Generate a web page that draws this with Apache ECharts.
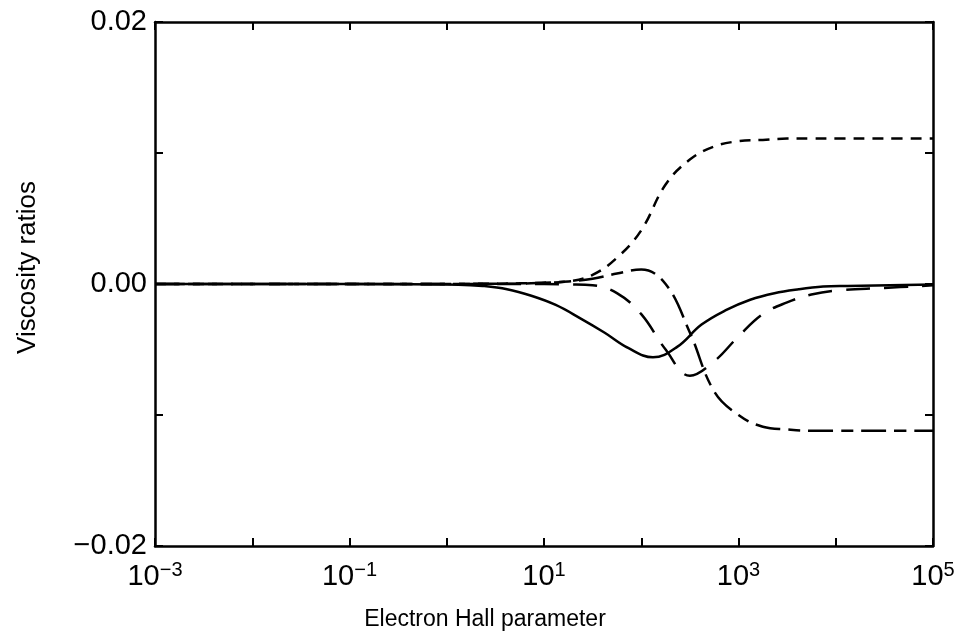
<!DOCTYPE html>
<html>
<head>
<meta charset="utf-8">
<title>Viscosity ratios</title>
<script src="https://cdn.jsdelivr.net/npm/echarts@6/dist/echarts.min.js"></script>
<style>
html,body{margin:0;padding:0;background:#fff;}
#main{width:962px;height:637px;}
</style>
</head>
<body>
<div id="main"></div>
<script>
// electron Hall parameter (x) for the dashed curves (quarter decades where they move)
var hall = [0.001, 0.01, 0.1, 1, 1.78, 3.16, 5.62, 10, 17.8, 31.6, 56.2, 100, 178, 316, 562, 1000, 1780, 3160, 5620, 10000, 31600, 100000];
// solid curve read on a grid centred on its minimum
var hallSolid = [0.001, 0.01, 0.1, 1.32, 2.34, 4.17, 7.41, 13.2, 23.4, 41.7, 74.1, 132, 234, 417, 741, 1320, 2340, 4170, 7410, 13200, 100000];
var solidRatio  = [0, 0, 0, -0.00005, -0.00015, -0.0004, -0.0009, -0.0016, -0.0026, -0.0037, -0.0049, -0.0056, -0.0048, -0.0031, -0.0020, -0.0012, -0.0007, -0.0004, -0.0002, -0.00015, -0.00003];
var risingRatio = [0, 0, 0, 0, 0.00001, 0.00002, 0.00005, 0.0001, 0.0002, 0.0007, 0.0020, 0.0041, 0.0076, 0.0095, 0.0105, 0.0109, 0.0110, 0.0111, 0.0111, 0.0111, 0.0111, 0.0111];
var peakRatio   = [0, 0, 0, 0, 0.00001, 0.00002, 0.00003, 0.0001, 0.0002, 0.0004, 0.0008, 0.0011, 0.0000, -0.0037, -0.0082, -0.0100, -0.0109, -0.0111, -0.0112, -0.0112, -0.0112, -0.0112];
var longRatio   = [0, 0, 0, 0, 0, 0, 0, 0, -0.00003, -0.0001, -0.0007, -0.0023, -0.0050, -0.0070, -0.0059, -0.0040, -0.0023, -0.0014, -0.0008, -0.0005, -0.0003, -0.0001];
// tick labels
var yTickLabels = {'0.02': '0.02', '0': '0.00', '-0.02': '\u22120.02'};
var xLabelExps = [-3, -1, 1, 3, 5];

var fontFam = 'Liberation Sans, Arial, Helvetica, sans-serif';

function pairs(xs, ys){
	var out = [];
	for (var i = 0; i < xs.length; i++) out.push([xs[i], ys[i]]);
	return out;
}

function xLabel(v){
	var e = Math.round(Math.log(v) / Math.LN10);
	if (xLabelExps.indexOf(e) < 0) return '';
	var s = e < 0 ? '\u2212' + (-e) : '' + e;
	return '{b|10}{e|' + s + '}';
}

function yLabel(v){
	if (Math.abs(v * 100 - Math.round(v * 100)) > 1e-6) return '';
	var k = Math.abs(v) < 1e-9 ? '0' : (Math.round(v * 100) / 100).toString();
	return yTickLabels[k] !== undefined ? yTickLabels[k] : '';
}

var axisLine = {show: true, onZero: false, lineStyle: {color: '#000', width: 2.5}};
var axisTick = {show: true, inside: true, length: 8, lineStyle: {color: '#000', width: 2}};

var line = function(xs, ys, type){
	return {
		type: 'line',
		data: pairs(xs, ys),
		showSymbol: false,
		smooth: 0.4,
		lineStyle: {color: '#000', width: 2.5, type: type},
		z: 3
	};
};

var option = {
	animation: false,
	backgroundColor: '#fff',
	grid: {left: 155, right: 29, top: 22, bottom: 91},
	xAxis: [{
		type: 'log', logBase: 10, min: 0.001, max: 100000, interval: 1,
		axisLine: axisLine, axisTick: axisTick, splitLine: {show: false},
		axisLabel: {
			margin: 14, formatter: xLabel,
			rich: {
				b: {fontFamily: fontFam, fontSize: 29, color: '#000'},
				e: {fontFamily: fontFam, fontSize: 20, color: '#000', verticalAlign: 'bottom', padding: [0, 0, 14, 0]}
			}
		},
		name: 'Electron Hall parameter', nameLocation: 'middle', nameGap: 62,
		nameTextStyle: {fontFamily: fontFam, fontSize: 23, color: '#000', padding: [0, 118, 0, 0]}
	}, {
		type: 'log', logBase: 10, min: 0.001, max: 100000, interval: 1, position: 'top',
		axisLine: axisLine, axisTick: axisTick, axisLabel: {show: false}, splitLine: {show: false}
	}],
	yAxis: [{
		type: 'value', min: -0.02, max: 0.02, interval: 0.01,
		axisLine: axisLine, axisTick: axisTick, splitLine: {show: false},
		axisLabel: {margin: 8, fontFamily: fontFam, fontSize: 29, color: '#000', formatter: yLabel},
		name: 'Viscosity ratios', nameLocation: 'middle', nameGap: 114, nameRotate: 90,
		nameTextStyle: {fontFamily: fontFam, fontSize: 26, color: '#000', padding: [0, 0, 0, 33]}
	}, {
		type: 'value', min: -0.02, max: 0.02, interval: 0.01, position: 'right',
		axisLine: axisLine, axisTick: axisTick, axisLabel: {show: false}, splitLine: {show: false}
	}],
	series: [
		line(hall, risingRatio, [11, 8]),
		line(hall, peakRatio, [25, 8, 12, 8]),
		line(hall, longRatio, [24, 14]),
		line(hallSolid, solidRatio, 'solid')
	]
};

var chart = echarts.init(document.getElementById('main'), null, {renderer: 'canvas'});
chart.setOption(option);
</script>
</body>
</html>
